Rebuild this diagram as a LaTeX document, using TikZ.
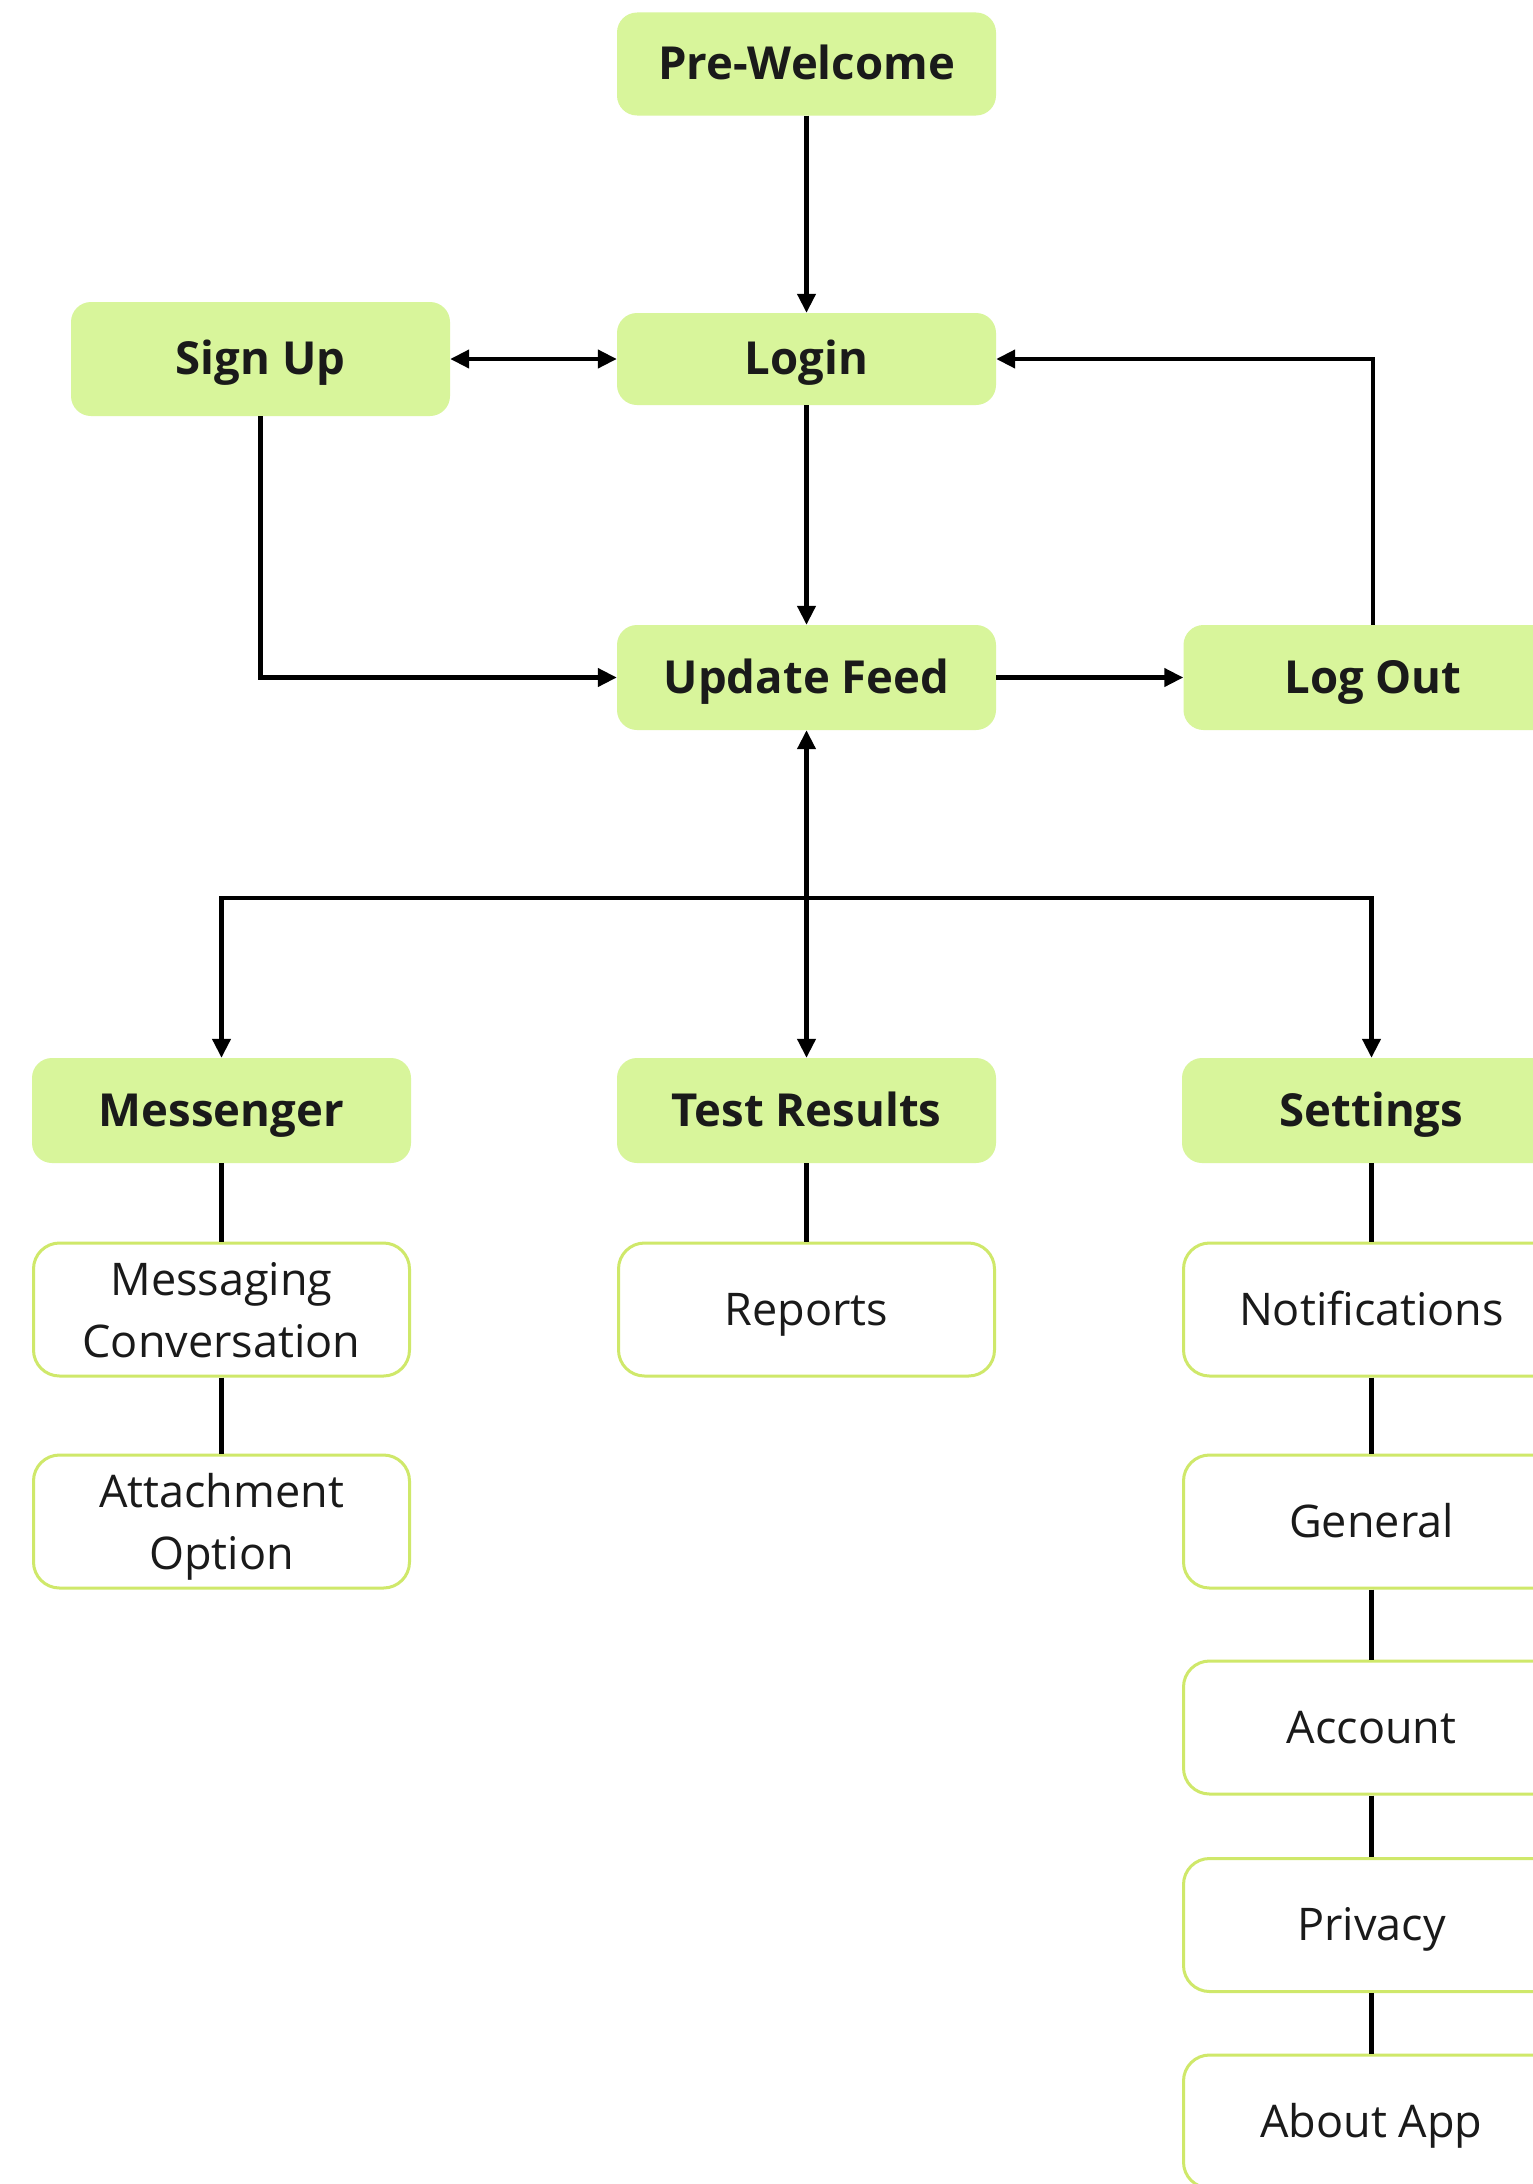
\documentclass[tikz,border=0pt]{standalone}
\usepackage{fontspec}
\setmainfont{Open Sans}
\usetikzlibrary{arrows.meta}
\definecolor{boxgreen}{HTML}{D8F59B}
\definecolor{edgegreen}{HTML}{CFE86A}
\definecolor{ink}{HTML}{1A1A1A}
\tikzset{
  base/.style={rounded corners=20pt, inner sep=0pt, align=center, text=ink,
    minimum width=379pt, text depth=0pt, font=\fontsize{45}{62}\selectfont},
  head/.style={base, fill=boxgreen, draw=none, minimum height=105pt,
    text height=31pt, font=\fontsize{45.5}{62}\selectfont\bfseries},
  leaf/.style={base, fill=white, draw=edgegreen, line width=3pt,
    rounded corners=26pt, minimum width=376pt, minimum height=133pt},
  one/.style={text height=31.5pt},
  conn/.style={draw=black, line width=4.2pt},
  arr/.style={conn, -{Triangle[length=19pt,width=18pt]}},
  darr/.style={conn, {Triangle[length=19pt,width=18pt]}-{Triangle[length=19pt,width=18pt]}},
}
\begin{document}
\begin{tikzpicture}[x=1pt,y=-1pt]
\useasboundingbox[fill=white] (0,0) rectangle (1533,2184);
% green heads
\node[head, minimum height=103pt] (pre) at (806.5,64) {Pre-Welcome};
\node[head, minimum height=114pt] (signup) at (260.5,359) {Sign Up};
\node[head, minimum height=92pt] (login) at (806.5,359) {Login};
\node[head] (feed) at (806.5,677.5) {Update Feed};
\node[head] (logout) at (1373,677.5) {Log Out};
\node[head] (messenger) at (221.5,1110.5) {Messenger};
\node[head] (test) at (806.5,1110.5) {Test Results};
\node[head] (settings) at (1371.5,1110.5) {Settings};
% white leaves
\node[leaf] (mc) at (221.5,1309.5) {Messaging\\Conversation};
\node[leaf] (att) at (221.5,1521.5) {Attachment\\Option};
\node[leaf, one] (reports) at (806.5,1309.5) {Reports};
\node[leaf, one] (notif) at (1371.5,1309.5) {Notifications};
\node[leaf, one] (general) at (1371.5,1521.5) {General};
\node[leaf, one] (account) at (1371.5,1727.5) {Account};
\node[leaf, one] (privacy) at (1371.5,1925) {Privacy};
\node[leaf, one] (about) at (1371.5,2121.5) {About App};
% connectors
\draw[arr] (pre) -- (login);
\draw[darr] (signup) -- (login);
\draw[arr] (login) -- (feed);
\draw[arr] (signup.south) |- (feed.west);
\draw[arr] (feed) -- (logout);
\draw[arr] (logout.north) |- (login.east);
\draw[darr] (feed) -- (test);
\coordinate (branch) at (806.5,898);
\draw[arr] (branch) -| (messenger.north);
\draw[arr] (branch) -| (settings.north);
\draw[conn] (messenger) -- (mc);
\draw[conn] (mc) -- (att);
\draw[conn] (test) -- (reports);
\draw[conn] (settings) -- (notif);
\draw[conn] (notif) -- (general);
\draw[conn] (general) -- (account);
\draw[conn] (account) -- (privacy);
\draw[conn] (privacy) -- (about);
\end{tikzpicture}
\end{document}
